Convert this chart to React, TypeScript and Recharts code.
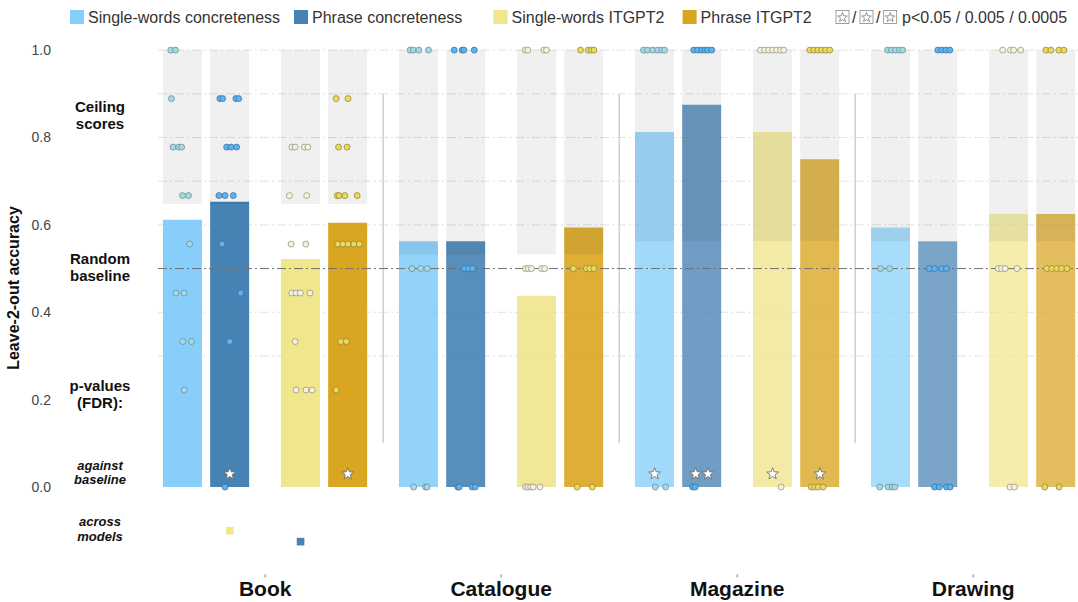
import React from "react";
import { ComposedChart, Bar, Cell, XAxis, YAxis, Scatter, ReferenceLine } from "recharts";

const groups = ["Book", "Catalogue", "Magazine", "Drawing"];
const models = ["Single-words concreteness", "Phrase concreteness", "Single-words ITGPT2", "Phrase ITGPT2"];

// mean leave-2-out accuracy, one value per model
const bookAccuracy = [0.612, 0.653, 0.522, 0.605];
const catalogueAccuracy = [0.5625, 0.5625, 0.438, 0.594];
const magazineAccuracy = [0.8125, 0.875, 0.8125, 0.75];
const drawingAccuracy = [0.594, 0.5625, 0.625, 0.625];

// ceiling score of each category
const ceilingScores = [0.648, 0.532, 0.5625, 0.5625];

// single subjects: [model, score, jitter]
const bookSubjects = [
  [0, 1, -0.5], [0, 1, -0.3], [0, 0.889, -0.47], [0, 0.778, -0.4], [0, 0.778, -0.16], [0, 0.778, -0.04],
  [0, 0.667, 0], [0, 0.667, 0.25], [0, 0.556, 0.3], [0, 0.444, -0.28], [0, 0.444, 0.06], [0, 0.333, 0.01],
  [0, 0.333, 0.38], [0, 0.222, 0.07],
  [1, 0.889, -0.42], [1, 0.889, -0.3], [1, 0.889, 0.26], [1, 0.889, 0.38], [1, 0.778, -0.13], [1, 0.778, 0.06],
  [1, 0.778, 0.29], [1, 0.667, -0.46], [1, 0.667, -0.2], [1, 0.667, 0.15], [1, 0.556, -0.33], [1, 0.444, 0.46],
  [1, 0.333, 0], [1, 0, -0.2],
  [2, 0.778, -0.37], [2, 0.778, -0.23], [2, 0.778, 0.16], [2, 0.778, 0.31], [2, 0.667, -0.47], [2, 0.667, 0.26],
  [2, 0.556, -0.4], [2, 0.556, 0.22], [2, 0.444, -0.37], [2, 0.444, -0.19], [2, 0.444, -0.01], [2, 0.444, 0.4],
  [2, 0.333, -0.23], [2, 0.222, -0.19], [2, 0.222, 0.23], [2, 0.222, 0.49],
  [3, 0.889, -0.49], [3, 0.889, 0.01], [3, 0.778, -0.39], [3, 0.778, -0.03], [3, 0.667, -0.44], [3, 0.667, -0.37],
  [3, 0.667, -0.12], [3, 0.667, 0.4], [3, 0.556, -0.42], [3, 0.556, -0.2], [3, 0.556, 0.01], [3, 0.556, 0.26],
  [3, 0.556, 0.49], [3, 0.333, -0.29], [3, 0.333, -0.06], [3, 0.222, -0.49],
];
const catalogueSubjects = [
  [0, 1, -0.36], [0, 1, -0.22], [0, 1, 0.01], [0, 1, 0.42], [0, 0.5, -0.28], [0, 0.5, 0.09], [0, 0.5, 0.37],
  [0, 0, -0.21], [0, 0, 0.3], [0, 0, 0.36],
  [1, 1, -0.49], [1, 1, -0.15], [1, 1, -0.08], [1, 1, 0.36], [1, 0.5, -0.05], [1, 0.5, 0.12], [1, 0.5, 0.29],
  [1, 0, -0.34], [1, 0, -0.28], [1, 0, 0.27], [1, 0, 0.4],
  [2, 1, -0.48], [2, 1, -0.37], [2, 1, 0.31], [2, 1, 0.42], [2, 0.5, -0.47], [2, 0.5, -0.35], [2, 0.5, -0.22],
  [2, 0.5, 0.21], [2, 0.5, 0.34], [2, 0, -0.47], [2, 0, -0.37], [2, 0, -0.25], [2, 0, -0.14], [2, 0, 0.14],
  [3, 1, -0.14], [3, 1, 0.19], [3, 1, 0.32], [3, 1, 0.43], [3, 0.5, -0.44], [3, 0.5, 0.11], [3, 0.5, 0.25],
  [3, 0.5, 0.43], [3, 0, -0.28], [3, 0, 0.36],
];
const magazineSubjects = [
  [0, 1, -0.47], [0, 1, -0.3], [0, 1, -0.08], [0, 1, 0.13], [0, 1, 0.3], [0, 1, 0.42], [0, 0, 0.03], [0, 0, 0.47],
  [1, 1, -0.34], [1, 1, -0.17], [1, 1, 0], [1, 1, 0.13], [1, 1, 0.25], [1, 1, 0.42], [1, 0, -0.39], [1, 0, -0.28],
  [2, 1, -0.51], [2, 1, -0.34], [2, 1, -0.17], [2, 1, 0], [2, 1, 0.17], [2, 1, 0.34], [2, 1, 0.47], [2, 0, 0.36],
  [3, 1, -0.42], [3, 1, -0.25], [3, 1, -0.08], [3, 1, 0.08], [3, 1, 0.25], [3, 1, 0.42], [3, 0, -0.36],
  [3, 0, -0.22], [3, 0, -0.07], [3, 0, 0.14],
];
const drawingSubjects = [
  [0, 1, -0.13], [0, 1, 0.04], [0, 1, 0.21], [0, 1, 0.38], [0, 1, 0.51], [0, 0.5, -0.43], [0, 0.5, -0.04],
  [0, 0, -0.46], [0, 0, -0.11], [0, 0, 0.07], [0, 0, 0.18],
  [1, 1, 0], [1, 1, 0.17], [1, 1, 0.34], [1, 1, 0.51], [1, 0.5, -0.36], [1, 0.5, -0.14], [1, 0.5, 0.16],
  [1, 0.5, 0.37], [1, 0, -0.14], [1, 0, 0.06], [1, 0, 0.37], [1, 0, 0.52],
  [2, 1, -0.25], [2, 1, 0.08], [2, 1, 0.21], [2, 1, 0.51], [2, 0.5, -0.44], [2, 0.5, -0.3], [2, 0.5, -0.15],
  [2, 0.5, 0.36], [2, 0, 0.06], [2, 0, 0.25],
  [3, 1, -0.42], [3, 1, -0.21], [3, 1, 0.13], [3, 1, 0.34], [3, 0.5, -0.38], [3, 0.5, -0.17], [3, 0.5, 0.04],
  [3, 0.5, 0.25], [3, 0.5, 0.47], [3, 0, -0.47], [3, 0, 0.14],
];

// significant against baseline: [group, model, number of stars]
const baselineStars = [[0, 1, 1], [0, 3, 1], [2, 0, 1], [2, 1, 2], [2, 2, 1], [2, 3, 1]];
// significant across models: [group, model column, colour of model compared]
const acrossModelMarks = [[0, 1, 2], [0, 2, 1]];

const yTicks = [0, 0.2, 0.4, 0.6, 0.8, 1.0];
const gridValues = [0.3, 0.4, 0.6, 0.7, 0.8, 0.9, 1.0];

const barColors = ["#87CEFA", "#4682B4", "#F0E68C", "#DAA520"];
const groupOpacity = [1, 0.9, 0.78, 0.72];
const dotFill = ["#a7d8df", "#5fb3ea", "#f4f1dc", "#ead85f"];
const dotStroke = ["#5d8a94", "#2f6f9f", "#8d8b7a", "#8f7f2c"];

const FONT = '"Liberation Sans", Arial, Helvetica, sans-serif';
const SLOT_OFFSETS = [0, 2, 5, 7];
const X_DOMAIN = [-1.04, 37.94];
const STAR_Y = 0.03;
const AXIS_Y = 574.4;
const slotOf = (g: number, m: number) => g * 10 + SLOT_OFFSETS[m];

const accuracies = [bookAccuracy, catalogueAccuracy, magazineAccuracy, drawingAccuracy];
const subjects = [bookSubjects, catalogueSubjects, magazineSubjects, drawingSubjects];

const barRows = groups.flatMap((_, g) =>
  models.map((__, m) => ({
    x: slotOf(g, m),
    g,
    m,
    acc: accuracies[g][m],
    ceiling: [ceilingScores[g], 1],
  }))
);

const subjectPoints = models.map((_, m) =>
  subjects.flatMap((list, g) =>
    list.filter((d) => d[0] === m).map((d) => ({ x: slotOf(g, m) + d[2], y: d[1] }))
  )
);

const starPoints = baselineStars.flatMap(([g, m, n]) =>
  n === 1
    ? [{ x: slotOf(g, m), y: STAR_Y }]
    : [{ x: slotOf(g, m) - 0.26, y: STAR_Y }, { x: slotOf(g, m) + 0.26, y: STAR_Y }]
);

const acrossPoints = acrossModelMarks.map(([g, m, c], i) => ({ x: slotOf(g, m), y: -0.1 - i * 0.025, c }));

function starPath(cx: number, cy: number, R: number, r: number) {
  return Array.from({ length: 10 }, (_, i) => {
    const a = -Math.PI / 2 + (i * Math.PI) / 5;
    const rad = i % 2 === 0 ? R : r;
    return `${(cx + rad * Math.cos(a)).toFixed(2)},${(cy + rad * Math.sin(a)).toFixed(2)}`;
  }).join(" ");
}

function Dot(m: number) {
  return (p: any) => (
    <circle cx={p.cx} cy={p.cy} r={3} fill={dotFill[m]} stroke={dotStroke[m]} strokeWidth={0.7} />
  );
}

function Overlay() {
  const legendX = [70, 294, 493.5, 682.6];
  const textProps = { fontFamily: FONT, fill: "#111", fontWeight: 700, textAnchor: "middle" as const };
  return (
    <svg width={1078} height={602} style={{ position: "absolute", left: 0, top: 0, pointerEvents: "none" }}>
      {models.map((name, i) => (
        <g key={name}>
          <rect x={legendX[i]} y={10} width={14} height={14} fill={barColors[i]} />
          <text x={legendX[i] + 18} y={22.5} fontSize={16} fill="#333" fontFamily={FONT}>
            {name}
          </text>
        </g>
      ))}
      {[836, 860, 883.7].map((x) => (
        <g key={x}>
          <rect x={x} y={10.5} width={13} height={13} fill="#fff" stroke="#888" strokeWidth={0.8} />
          <polygon points={starPath(x + 6.5, 17.5, 5, 2.1)} fill="#fff" stroke="#777" strokeWidth={0.8} />
        </g>
      ))}
      <text x={852} y={22.5} fontSize={16} fill="#333" fontFamily={FONT}>/</text>
      <text x={876} y={22.5} fontSize={16} fill="#333" fontFamily={FONT}>/</text>
      <text x={902} y={22.5} fontSize={16} fill="#333" fontFamily={FONT}>
        p&lt;0.05 / 0.005 / 0.0005
      </text>

      <text x={19.3} y={288} transform="rotate(-90 19.3 288)" fontSize={16} {...textProps}>
        Leave-2-out accuracy
      </text>

      <text x={100} y={112} fontSize={15} {...textProps}>Ceiling</text>
      <text x={100} y={128.5} fontSize={15} {...textProps}>scores</text>
      <text x={100} y={264} fontSize={15} {...textProps}>Random</text>
      <text x={100} y={280.5} fontSize={15} {...textProps}>baseline</text>
      <text x={100} y={391} fontSize={15} {...textProps}>p-values</text>
      <text x={100} y={407.5} fontSize={15} {...textProps}>(FDR):</text>
      <text x={100} y={469.5} fontSize={13} fontStyle="italic" {...textProps}>against</text>
      <text x={100} y={484} fontSize={13} fontStyle="italic" {...textProps}>baseline</text>
      <text x={100} y={526} fontSize={13} fontStyle="italic" {...textProps}>across</text>
      <text x={100} y={540.5} fontSize={13} fontStyle="italic" {...textProps}>models</text>
    </svg>
  );
}

export default function App() {
  return (
    <div style={{ position: "absolute", left: 0, top: 0, width: 1078, height: 602, overflow: "hidden", background: "#fff", fontFamily: FONT }}>
      <ComposedChart width={1078} height={602} data={barRows} margin={{ top: 37, right: 0, bottom: 0, left: 0 }}>
        <XAxis xAxisId="bg" type="number" dataKey="x" domain={X_DOMAIN} allowDataOverflow hide />
        <XAxis xAxisId="val" type="number" dataKey="x" domain={X_DOMAIN} allowDataOverflow hide />
        <XAxis
          xAxisId="main"
          type="number"
          dataKey="x"
          domain={X_DOMAIN}
          allowDataOverflow
          ticks={[3.5, 13.5, 23.5, 33.5]}
          interval={0}
          height={27.6}
          axisLine={false}
          tickLine={false}
          tick={(p: any) => (
            <g>
              <line x1={p.x} x2={p.x} y1={AXIS_Y} y2={AXIS_Y + 3} stroke="#777" />
              <text x={p.x} y={596} textAnchor="middle" fontSize={21} fontWeight={700} fill="#111" fontFamily={FONT}>
                {groups[Math.round((p.payload.value - 3.5) / 10)]}
              </text>
            </g>
          )}
        />
        <YAxis
          type="number"
          dataKey="y"
          domain={[-0.2, 1.03]}
          allowDataOverflow
          ticks={yTicks}
          interval={0}
          width={158}
          axisLine={false}
          tickLine={false}
          tickSize={0}
          tickMargin={107}
          tick={(p: any) => (
            <text x={p.x} y={p.y} dy={5} textAnchor="end" fontSize={14} fill="#444" fontFamily={FONT}>
              {Number(p.payload.value).toFixed(1)}
            </text>
          )}
        />

        {gridValues.map((v) => (
          <ReferenceLine key={v} xAxisId="main" y={v} stroke="#e2e2e2" strokeDasharray="9 3 2 3" zIndex={260} />
        ))}

        <Bar xAxisId="val" dataKey="acc" barSize={39} isAnimationActive={false} zIndex={300}>
          {barRows.map((r) => (
            <Cell key={r.x} fill={barColors[r.m]} fillOpacity={groupOpacity[r.g]} />
          ))}
        </Bar>

        {/* ceiling band, a translucent grey laid over the bars */}
        <Bar xAxisId="bg" dataKey="ceiling" fill="#000" fillOpacity={0.06} barSize={39} isAnimationActive={false} zIndex={350} />

        {[8.5, 18.5, 28.5].map((x) => (
          <ReferenceLine
            key={x}
            xAxisId="main"
            segment={[{ x, y: 0.9 }, { x, y: 0.1 }]}
            stroke="#cfcfcf"
            strokeWidth={1.5}
            zIndex={400}
          />
        ))}
        <ReferenceLine xAxisId="main" y={0.5} stroke="#707070" strokeDasharray="9 3 2 3" strokeWidth={1} zIndex={400} />

        {models.map((name, m) => (
          <Scatter
            key={name}
            xAxisId="main"
            data={subjectPoints[m]}
            shape={Dot(m)}
            isAnimationActive={false}
            zIndex={600}
          />
        ))}
        <Scatter
          xAxisId="main"
          data={starPoints}
          isAnimationActive={false}
          zIndex={610}
          shape={(p: any) => (
            <polygon points={starPath(p.cx, p.cy, 6.2, 2.6)} fill="#fff" stroke="#666" strokeWidth={0.8} />
          )}
        />
        <Scatter
          xAxisId="main"
          data={acrossPoints}
          isAnimationActive={false}
          zIndex={610}
          shape={(p: any) => (
            <rect x={p.cx - 3.8} y={p.cy - 3.8} width={7.6} height={7.6} fill={barColors[p.payload.c]} />
          )}
        />
      </ComposedChart>
      <Overlay />
    </div>
  );
}
